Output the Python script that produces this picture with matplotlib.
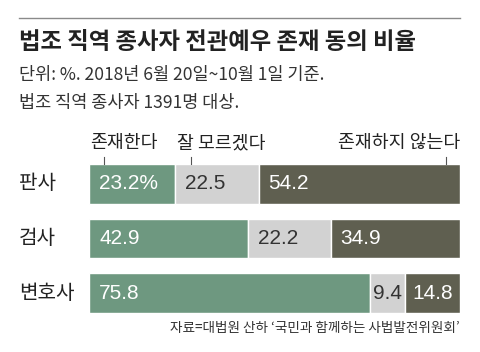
import matplotlib
matplotlib.use('Agg')
import matplotlib.pyplot as plt
import numpy as np

plt.rcParams['font.family'] = ['Noto Sans CJK KR', 'DejaVu Sans']

title = '법조 직역 종사자 전관예우 존재 동의 비율'
subtitle1 = '단위: %. 2018년 6월 20일~10월 1일 기준.'
subtitle2 = '법조 직역 종사자 1391명 대상.'
source = '자료=대법원 산하 \u2018국민과 함께하는 사법발전위원회\u2019'

groups = ['판사', '검사', '변호사']
answers = ['존재한다', '잘 모르겠다', '존재하지 않는다']
exists = [23.2, 42.9, 75.8]
unsure = [22.5, 22.2, 9.4]
not_exists = [54.2, 34.9, 14.8]

colors = ['#6e9880', '#d2d2d2', '#5f5f50']
text_colors = ['white', '#333333', 'white']
num_font = 'Liberation Sans'

W, H = 480, 352
fig = plt.figure(figsize=(4.8, 3.52), dpi=100)

def fx(x):
    return x / W

def fy(y):
    return 1 - y / H

# top rule
fig.add_artist(plt.Line2D([fx(19), fx(460)], [fy(18), fy(18)], color='#8a8a8a', lw=1.0))

fig.text(fx(19), fy(42), title, fontsize=16.8, fontweight='bold', va='center', color='#222222')
fig.text(fx(19), fy(75), subtitle1, fontsize=12.6, va='center', color='#333333')
fig.text(fx(19), fy(103), subtitle2, fontsize=12.6, va='center', color='#333333')
fig.text(fx(460), fy(328), source, fontsize=9.8, va='center', ha='right', color='#333333')

ax = fig.add_axes([fx(89), fy(313), fx(460) - fx(89), (313 - 164) / H])
series = [exists, unsure, not_exists]
y = np.arange(len(groups))
bh = 0.727
left = np.zeros(len(groups))
for i, vals in enumerate(series):
    vals = np.array(vals)
    ax.barh(y, vals, left=left, height=bh, color=colors[i], edgecolor='white', linewidth=1.0)
    for j, v in enumerate(vals):
        label = f'{v:.1f}%' if (i == 0 and j == 0) else f'{v:.1f}'
        if v < 16:
            ax.text(left[j] + v / 2, y[j], label, ha='center', va='center',
                    color=text_colors[i], fontsize=15, family=num_font)
        else:
            ax.text(left[j] + 2.7, y[j], label, ha='left', va='center',
                    color=text_colors[i], fontsize=15, family=num_font)
    left = left + vals

ax.set_xlim(0, 100)
ax.set_ylim(len(groups) - 1 + bh / 2, -bh / 2)
ax.axis('off')

for j, g in enumerate(groups):
    ax.text(-18.9, y[j], g, ha='left', va='center', fontsize=14.5, color='#222222')

# legend labels above the first bar
tick_x = [4.0, exists[0] + 4.3, 100 - 3.8]
label_x = [0.3, exists[0] + 0.6, 100]
has = ['left', 'left', 'right']
for k in range(3):
    ax.plot([tick_x[k], tick_x[k]], [-bh / 2 - 0.13, -bh / 2], color='#555555', lw=0.8, clip_on=False)
    ax.text(label_x[k], -bh / 2 - 0.38, answers[k], ha=has[k], va='center', fontsize=13.2,
            color='#222222')

fig.savefig('out.png', dpi=100)
